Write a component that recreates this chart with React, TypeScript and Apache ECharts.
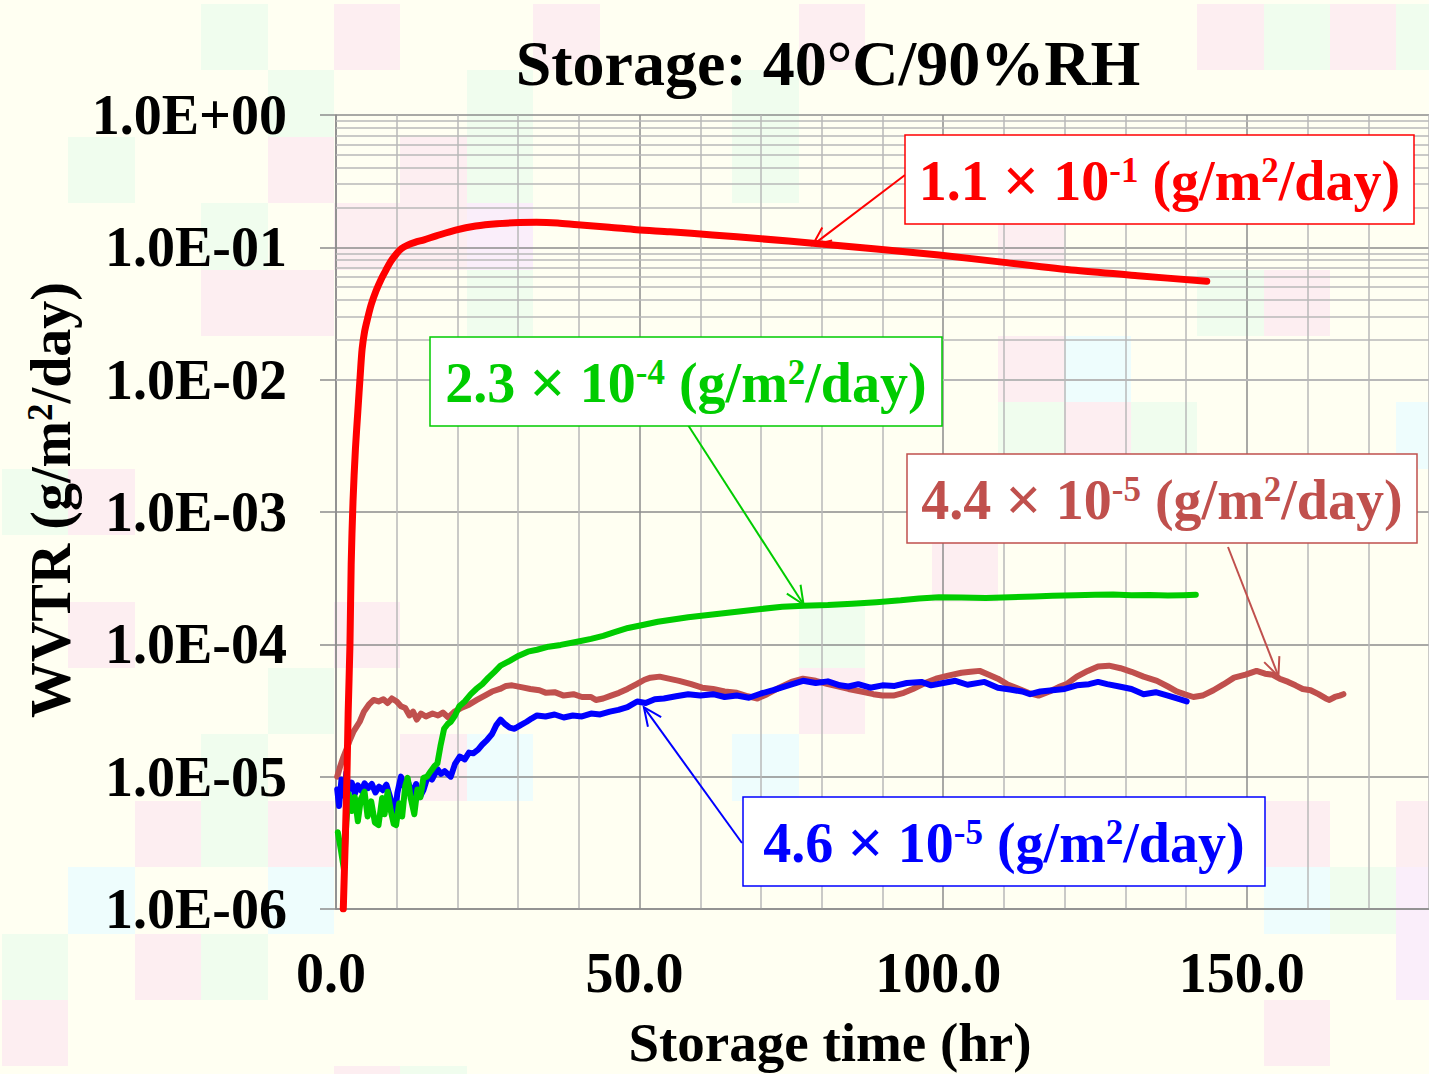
import React, { useEffect, useRef } from 'react';
import * as echarts from 'echarts';

// ---------- data ----------
const xLabelTicks = [0, 50, 100, 150];
const yDecadeTicks = [1e-6, 1e-5, 1e-4, 1e-3, 1e-2, 1e-1, 1];

const redData: number[][] = [
  [1.2, 1e-6], [1.5, 3e-6], [1.8, 1e-5], [2.0, 3e-5], [2.3, 1e-4], [2.5, 4e-4], [2.8, 1.2e-3],
  [3.2, 3.0e-3], [3.6, 5.8e-3], [4.0, 1.1e-2], [4.3, 1.7e-2], [4.7, 2.3e-2], [5.2, 2.9e-2],
  [5.8, 3.7e-2], [6.6, 4.7e-2], [7.4, 5.7e-2], [8.2, 6.7e-2], [9.0, 7.8e-2], [10.0, 9.0e-2],
  [10.8, 9.8e-2], [11.8, 1.04e-1], [13.0, 1.09e-1], [14.5, 1.14e-1], [16.5, 1.22e-1],
  [19.7, 1.35e-1], [23.0, 1.45e-1], [26.5, 1.51e-1], [30.2, 1.54e-1], [33.0, 1.55e-1],
  [36.5, 1.53e-1], [39.8, 1.48e-1], [45.0, 1.42e-1], [49.5, 1.36e-1], [55.0, 1.31e-1],
  [62.0, 1.24e-1], [70.0, 1.16e-1], [79.0, 1.07e-1], [89.0, 9.7e-2], [99.3, 8.75e-2],
  [110.0, 7.7e-2], [121.8, 6.7e-2], [132.0, 6.1e-2], [143.4, 5.55e-2],
];

const greenData: number[][] = [
  [0.3, 3.8e-6], [0.8, 2.8e-6], [1.3, 2.0e-6], [1.7, 4.5e-6], [2.1, 7.4e-6], [2.6, 5.5e-6],
  [3.1, 7.0e-6], [3.6, 4.6e-6], [4.1, 6.8e-6], [4.7, 7.7e-6], [5.2, 5.0e-6], [5.8, 6.5e-6],
  [6.4, 4.5e-6], [7.0, 4.3e-6], [7.6, 6.9e-6], [8.0, 5.2e-6], [8.5, 7.7e-6], [9.0, 5.6e-6],
  [9.5, 4.4e-6], [9.9, 4.3e-6], [10.4, 6.3e-6], [10.9, 5.0e-6], [11.4, 8.5e-6], [11.8, 9.8e-6],
  [12.3, 6.9e-6], [12.9, 5.2e-6], [13.4, 8.0e-6], [13.9, 7.0e-6], [14.4, 9.8e-6], [15.0, 1.0e-5],
  [15.6, 1.1e-5], [16.2, 1.2e-5], [16.7, 1.26e-5], [17.2, 1.7e-5], [17.8, 2.3e-5], [18.4, 2.5e-5],
  [18.9, 2.6e-5], [19.6, 2.9e-5], [20.3, 3.4e-5], [21.2, 3.7e-5], [22.2, 4.2e-5], [23.1, 4.6e-5],
  [24.1, 5.0e-5], [25.1, 5.6e-5], [26.1, 6.2e-5], [27.1, 6.9e-5], [28.6, 7.5e-5], [30.1, 8.2e-5],
  [31.6, 8.8e-5], [33.1, 9.1e-5], [35.0, 9.6e-5], [37.0, 9.9e-5], [39.9, 1.05e-4], [42.0, 1.1e-4],
  [44.0, 1.16e-4], [46.0, 1.24e-4], [48.1, 1.33e-4], [50.5, 1.4e-4], [53.0, 1.48e-4], [55.5, 1.54e-4],
  [58.0, 1.6e-4], [62.0, 1.68e-4], [66.0, 1.76e-4], [70.0, 1.85e-4], [73.5, 1.92e-4], [77.0, 1.96e-4],
  [81.0, 1.98e-4], [85.0, 2.03e-4], [89.0, 2.08e-4], [93.0, 2.15e-4], [96.0, 2.22e-4], [99.3, 2.27e-4],
  [103, 2.26e-4], [107, 2.24e-4], [111, 2.27e-4], [115, 2.3e-4], [118, 2.33e-4], [121.8, 2.35e-4],
  [125, 2.37e-4], [128, 2.38e-4], [131, 2.35e-4], [134, 2.36e-4], [137, 2.34e-4], [139.5, 2.35e-4],
  [141.6, 2.37e-4],
];

const blueData: number[][] = [
  [0.2, 8.0e-6], [0.5, 6.0e-6], [0.9, 9.5e-6], [1.3, 7.2e-6], [1.7, 1.07e-5], [2.1, 8.0e-6],
  [2.6, 9.0e-6], [3.1, 7.4e-6], [3.6, 8.6e-6], [4.2, 7.8e-6], [4.7, 8.9e-6], [5.3, 8.2e-6],
  [5.9, 8.8e-6], [6.5, 7.6e-6], [7.1, 8.4e-6], [7.7, 7.9e-6], [8.3, 8.7e-6], [9.0, 6.8e-6],
  [9.6, 4.6e-6], [10.1, 7.5e-6], [10.7, 1.0e-5], [11.3, 8.3e-6], [11.9, 9.0e-6], [12.5, 7.4e-6],
  [13.2, 8.8e-6], [13.8, 7.0e-6], [14.4, 7.9e-6], [15.1, 1.0e-5], [15.8, 9.5e-6], [16.7, 1.14e-5],
  [17.3, 1.05e-5], [17.9, 1.1e-5], [18.9, 1.0e-5], [19.6, 1.25e-5], [20.4, 1.42e-5], [21.2, 1.35e-5],
  [21.9, 1.52e-5], [22.6, 1.5e-5], [23.4, 1.6e-5], [24.1, 1.75e-5], [24.9, 1.9e-5], [25.7, 2.1e-5],
  [26.4, 2.45e-5], [27.1, 2.7e-5], [27.8, 2.5e-5], [28.6, 2.35e-5], [29.4, 2.3e-5], [30.4, 2.45e-5],
  [31.4, 2.6e-5], [32.2, 2.75e-5], [33.1, 2.9e-5], [34.5, 2.85e-5], [36.0, 2.95e-5], [37.5, 2.8e-5],
  [39.0, 2.9e-5], [40.5, 2.85e-5], [42.0, 3.0e-5], [43.5, 2.95e-5], [45.1, 3.1e-5], [46.5, 3.2e-5],
  [48.0, 3.35e-5], [49.6, 3.7e-5], [51.0, 3.6e-5], [52.5, 3.85e-5], [54.0, 3.9e-5], [56.0, 4.05e-5],
  [58.0, 4.2e-5], [60.0, 4.1e-5], [62.1, 4.2e-5], [64.0, 4.0e-5], [66.0, 4.1e-5], [68.0, 3.95e-5],
  [70.0, 4.25e-5], [72.0, 4.5e-5], [74.5, 4.9e-5], [76.9, 5.3e-5], [79.0, 5.1e-5], [81.0, 5.25e-5],
  [83.0, 4.9e-5], [84.4, 4.8e-5], [86.0, 5.0e-5], [88.0, 4.7e-5], [90.0, 4.9e-5], [92.0, 4.85e-5],
  [94.0, 5.1e-5], [96.4, 5.2e-5], [98.0, 4.9e-5], [100.0, 5.1e-5], [102.0, 5.3e-5], [104.0, 4.95e-5],
  [106.8, 5.2e-5], [109.0, 4.7e-5], [111.0, 4.55e-5], [113.0, 4.4e-5], [114.3, 4.2e-5], [116.0, 4.4e-5],
  [118.0, 4.5e-5], [120.0, 4.6e-5], [122.0, 4.9e-5], [124.0, 5.0e-5], [125.5, 5.2e-5], [127.0, 5.0e-5],
  [129.0, 4.8e-5], [131.0, 4.6e-5], [133.0, 4.2e-5], [135.0, 4.35e-5], [137.0, 4.1e-5], [138.5, 3.9e-5],
  [140.1, 3.7e-5],
];

const brownData: number[][] = [
  [0.2, 1.0e-5], [0.7, 1.2e-5], [1.2, 1.4e-5], [1.7, 1.6e-5], [2.3, 1.9e-5], [2.9, 2.2e-5],
  [3.9, 2.6e-5], [4.6, 3.1e-5], [5.4, 3.5e-5], [6.2, 3.8e-5], [7.0, 3.7e-5], [7.8, 3.85e-5],
  [8.5, 3.6e-5], [9.2, 3.9e-5], [10.0, 3.7e-5], [10.7, 3.4e-5], [11.4, 3.3e-5], [12.1, 2.9e-5],
  [12.7, 3.1e-5], [13.3, 2.7e-5], [14.0, 3.0e-5], [14.8, 2.85e-5], [15.9, 3.0e-5], [16.8, 2.9e-5],
  [17.6, 3.05e-5], [18.5, 2.8e-5], [19.5, 3.1e-5], [20.6, 3.3e-5], [21.9, 3.5e-5], [23.2, 3.8e-5],
  [24.5, 4.1e-5], [25.7, 4.4e-5], [27.0, 4.6e-5], [28.0, 4.85e-5], [29.0, 4.9e-5], [30.5, 4.75e-5],
  [32.0, 4.6e-5], [33.5, 4.5e-5], [34.6, 4.3e-5], [36.0, 4.35e-5], [37.5, 4.1e-5], [39.1, 4.2e-5],
  [40.5, 4.0e-5], [42.0, 4.0e-5], [42.8, 3.8e-5], [44.0, 3.9e-5], [45.3, 4.1e-5], [46.6, 4.3e-5],
  [48.0, 4.6e-5], [49.5, 5.0e-5], [50.8, 5.4e-5], [51.8, 5.6e-5], [53.3, 5.7e-5], [54.8, 5.5e-5],
  [56.5, 5.3e-5], [58.5, 5.0e-5], [60.3, 4.7e-5], [62.1, 4.6e-5], [64.0, 4.4e-5], [66.0, 4.3e-5],
  [67.8, 4.05e-5], [69.4, 3.9e-5], [71.0, 4.2e-5], [73.0, 4.7e-5], [75.0, 5.2e-5], [76.9, 5.5e-5],
  [79.0, 5.3e-5], [81.0, 5.0e-5], [82.8, 4.8e-5], [84.4, 4.6e-5], [86.5, 4.4e-5], [88.5, 4.2e-5],
  [90.0, 4.1e-5], [91.8, 4.1e-5], [93.5, 4.3e-5], [95.0, 4.6e-5], [97.0, 5.1e-5], [98.8, 5.5e-5],
  [100.8, 5.8e-5], [103.0, 6.1e-5], [104.5, 6.2e-5], [106.0, 6.3e-5], [107.5, 5.9e-5], [109.0, 5.5e-5],
  [110.5, 5.0e-5], [112.0, 4.7e-5], [114.0, 4.3e-5], [115.7, 4.1e-5], [117.5, 4.4e-5], [119.0, 4.75e-5],
  [120.3, 5.0e-5], [122.0, 5.7e-5], [123.8, 6.3e-5], [125.5, 6.8e-5], [127.3, 6.9e-5], [129.2, 6.6e-5],
  [131.0, 6.2e-5], [133.0, 5.7e-5], [135.2, 5.3e-5], [137.0, 4.8e-5], [138.5, 4.4e-5], [139.7, 4.2e-5],
  [141.2, 4.0e-5], [142.7, 4.1e-5], [144.5, 4.5e-5], [146.2, 5.0e-5], [147.9, 5.6e-5], [149.8, 5.9e-5],
  [151.6, 6.3e-5], [153.0, 6.0e-5], [154.2, 5.9e-5], [155.4, 5.5e-5], [156.8, 5.2e-5], [158.0, 4.9e-5],
  [159.2, 4.6e-5], [160.5, 4.5e-5], [161.8, 4.2e-5], [163.0, 3.9e-5], [163.6, 3.8e-5], [164.5, 4.0e-5],
  [165.3, 4.1e-5], [165.9, 4.2e-5],
];

// annotation texts and the data points their arrows point at
const annoMantissas = ['1.1', '2.3', '4.4', '4.6'];
const annoExponents = ['-1', '-4', '-5', '-5'];
const annoTips: number[][] = [[78.5, 0.104], [77.0, 2.0e-4], [155.2, 5.75e-5], [50.7, 3.35e-5]];

// ---------- styling ----------
const FONT = '"Liberation Serif", "Times New Roman", serif';
const RED = '#FF0000';
const GREEN = '#00CC00';
const BLUE = '#0000FF';
const BROWN = '#C0504D';
const annoColors = [RED, GREEN, BROWN, BLUE];
// box: x, y, w, h ; arrow start x, y
const annoBoxes = [
  [905, 135, 509, 89, 905, 175],
  [430, 337, 512, 89, 688, 425],
  [907, 454, 510, 89, 1228, 547],
  [743, 797, 522, 89, 742, 843],
];

const BG = '#FFFFF2';
const cellColors: Record<string, string> = { p: '#FDEEF1', g: '#F0FDEE', c: '#EEFDFD', l: '#FAEEFA' };
const bgCells: [number, number, string][] = [
  [3, 0, 'g'], [5, 0, 'p'], [8, 0, 'p'], [12, 0, 'p'], [18, 0, 'p'], [19, 0, 'g'], [20, 0, 'p'], [21, 0, 'g'],
  [4, 1, 'g'], [7, 1, 'g'], [11, 1, 'g'],
  [1, 2, 'g'], [4, 2, 'p'], [6, 2, 'p'], [7, 2, 'g'], [11, 2, 'g'],
  [3, 3, 'g'], [5, 3, 'p'], [6, 3, 'p'], [7, 3, 'l'], [15, 3, 'p'],
  [3, 4, 'p'], [4, 4, 'p'], [7, 4, 'g'], [18, 4, 'g'], [19, 4, 'p'],
  [15, 5, 'p'], [16, 5, 'c'],
  [15, 6, 'g'], [16, 6, 'p'], [17, 6, 'g'], [21, 6, 'c'],
  [0, 7, 'g'], [1, 7, 'p'],
  [14, 8, 'p'],
  [1, 9, 'p'], [5, 9, 'p'], [12, 9, 'g'],
  [4, 10, 'g'], [12, 10, 'p'],
  [3, 11, 'g'], [6, 11, 'p'], [7, 11, 'c'], [11, 11, 'c'],
  [2, 12, 'p'], [3, 12, 'g'], [4, 12, 'p'], [19, 12, 'p'], [21, 12, 'p'],
  [1, 13, 'c'], [4, 13, 'c'], [19, 13, 'c'], [20, 13, 'g'], [21, 13, 'l'],
  [0, 14, 'g'], [2, 14, 'p'], [3, 14, 'g'], [21, 14, 'l'],
  [0, 15, 'p'], [19, 15, 'p'],
  [5, 16, 'p'], [6, 16, 'g'],
];
const CELL = 66.4;
const CELL_X0 = 2;
const CELL_Y0 = 4;

const GRID_LEFT = 336;
const GRID_TOP = 115;
const GRID_W = 1098;
const GRID_H = 794;
const X_MAX = 180;

const MAJOR_LINE = '#8C8C8C';
const MINOR_LINE = '#B9B9B9';

function yLabel(v: number): string {
  const e = Math.round(Math.log10(v));
  const a = Math.abs(e);
  return '1.0E' + (e < 0 ? '-' : '+') + (a < 10 ? '0' : '') + a;
}

const minorYValues: number[] = [];
for (let i = 0; i < yDecadeTicks.length - 1; i++) {
  for (let k = 2; k <= 9; k++) minorYValues.push(yDecadeTicks[i] * k);
}

function richBase(color: string, size: number) {
  return {
    b: { fontSize: size, lineHeight: size, fontWeight: 'bold', fontFamily: FONT, fill: color },
    x: { fontSize: Math.round(size * 1.15), lineHeight: size, fontWeight: 'bold', fontFamily: FONT, fill: color },
    s: {
      fontSize: Math.round(size * 0.62),
      fontWeight: 'bold',
      fontFamily: FONT,
      fill: color,
      verticalAlign: 'top',
    },
  };
}

export default function App() {
  const ref = useRef<HTMLDivElement>(null);

  useEffect(() => {
    if (!ref.current) return;
    const chart = echarts.init(ref.current, undefined, { renderer: 'svg' });

    const lineSeries = (name: string, data: number[][], color: string, width: number, smooth: number | boolean) => ({
      name,
      type: 'line',
      data,
      showSymbol: false,
      symbol: 'none',
      smooth,
      clip: true,
      color,
      lineStyle: { color, width, cap: 'round', join: 'round' },
      z: 3,
    });

    chart.setOption({
      animation: false,
      backgroundColor: 'transparent',
      grid: { left: GRID_LEFT, top: GRID_TOP, width: GRID_W, height: GRID_H, containLabel: false },
      xAxis: {
        type: 'value',
        min: 0,
        max: X_MAX,
        interval: 10,
        axisLine: { show: true, onZero: false, lineStyle: { color: MAJOR_LINE, width: 1.5 } },
        axisTick: { show: false },
        axisLabel: {
          formatter: (v: number) => (xLabelTicks.indexOf(v) >= 0 ? v.toFixed(1) : ''),
          fontSize: 56,
          fontWeight: 'bold',
          fontFamily: FONT,
          color: '#000',
          margin: 36,
          padding: [0, 10, 0, 0],
          showMaxLabel: false,
        },
        splitLine: {
          show: true,
          lineStyle: { color: [MAJOR_LINE, MINOR_LINE, MINOR_LINE, MINOR_LINE, MINOR_LINE], width: 1.5 },
        },
      },
      yAxis: {
        type: 'log',
        logBase: 10,
        min: yDecadeTicks[0],
        max: yDecadeTicks[yDecadeTicks.length - 1],
        splitNumber: 6,
        axisLine: { show: true, lineStyle: { color: MAJOR_LINE, width: 1.5 } },
        axisTick: { show: true, inside: false, length: 16, lineStyle: { color: MAJOR_LINE, width: 1.5 } },
        axisLabel: {
          formatter: (v: number) => yLabel(v),
          fontSize: 56,
          fontWeight: 'bold',
          fontFamily: FONT,
          color: '#000',
          margin: 49,
        },
        splitLine: { show: true, lineStyle: { color: MAJOR_LINE, width: 1.5 } },
        minorTick: { show: false },
        minorSplitLine: { show: false },
      },
      series: [
        {
          name: 'minor-grid',
          type: 'line',
          data: [[0, 1e-6]],
          showSymbol: false,
          symbol: 'none',
          lineStyle: { width: 0, opacity: 0 },
          silent: true,
          z: 1,
          markLine: {
            silent: true,
            z: 1,
            symbol: ['none', 'none'],
            label: { show: false },
            lineStyle: { color: MINOR_LINE, width: 1.5, type: 'solid' },
            emphasis: { disabled: true },
            data: minorYValues.map((v) => ({ yAxis: v })),
          },
        },
        lineSeries('4.4E-5', brownData, BROWN, 6, false),
        lineSeries('4.6E-5', blueData, BLUE, 6, false),
        lineSeries('2.3E-4', greenData, GREEN, 6, false),
        lineSeries('1.1E-1', redData, RED, 7, 0.3),
      ],
    });

    const graphics: any[] = [];

    // title
    graphics.push({
      type: 'text',
      x: 828,
      y: 63,
      z: 100,
      style: {
        text: 'Storage: 40°C/90%RH',
        fontSize: 64,
        fontWeight: 'bold',
        fontFamily: FONT,
        fill: '#000',
        align: 'center',
        verticalAlign: 'middle',
      },
    });
    // x axis name
    graphics.push({
      type: 'text',
      x: 830,
      y: 1042,
      z: 100,
      style: {
        text: 'Storage time (hr)',
        fontSize: 55,
        fontWeight: 'bold',
        fontFamily: FONT,
        fill: '#000',
        align: 'center',
        verticalAlign: 'middle',
      },
    });
    // y axis name
    graphics.push({
      type: 'text',
      x: 51,
      y: 500,
      rotation: Math.PI / 2,
      z: 100,
      style: {
        text: '{b|WVTR (g/m}{s|2}{b|/day)}',
        rich: richBase('#000', 56),
        align: 'center',
        verticalAlign: 'middle',
      },
    });

    // annotation boxes and arrows
    for (let i = 0; i < annoBoxes.length; i++) {
      const [bx, by, bw, bh, ax, ay] = annoBoxes[i];
      const color = annoColors[i];
      const tip = chart.convertToPixel({ xAxisIndex: 0, yAxisIndex: 0 }, annoTips[i]) as number[];
      const dx = tip[0] - ax;
      const dy = tip[1] - ay;
      const ang = Math.atan2(dy, dx);
      const hl = 20;
      const ha = 0.42;
      const p1 = [tip[0] - hl * Math.cos(ang - ha), tip[1] - hl * Math.sin(ang - ha)];
      const p2 = [tip[0] - hl * Math.cos(ang + ha), tip[1] - hl * Math.sin(ang + ha)];
      graphics.push({
        type: 'line',
        z: 90,
        shape: { x1: ax, y1: ay, x2: tip[0], y2: tip[1] },
        style: { stroke: color, lineWidth: 2 },
      });
      graphics.push({
        type: 'polyline',
        z: 90,
        shape: { points: [p1, tip, p2] },
        style: { stroke: color, lineWidth: 2, fill: null },
      });
      graphics.push({
        type: 'rect',
        z: 95,
        shape: { x: bx, y: by, width: bw, height: bh },
        style: { fill: '#FFFFFF', stroke: color, lineWidth: 1.5 },
      });
      graphics.push({
        type: 'text',
        z: 96,
        x: bx + bw / 2,
        y: by + bh / 2 + 1,
        style: {
          text: `{b|${annoMantissas[i]} }{x|×}{b| 10}{s|${annoExponents[i]}}{b| (g/m}{s|2}{b|/day)}`,
          rich: richBase(color, 56),
          align: 'center',
          verticalAlign: 'middle',
        },
      });
    }

    chart.setOption({ graphic: graphics });

    return () => chart.dispose();
  }, []);

  return (
    <div style={{ position: 'fixed', left: 0, top: 0, width: 1429, height: 1074, background: BG, overflow: 'hidden' }}>
      {bgCells.map(([c, r, k], i) => (
        <div
          key={i}
          style={{
            position: 'absolute',
            left: CELL_X0 + c * CELL,
            top: CELL_Y0 + r * CELL,
            width: CELL,
            height: CELL,
            background: cellColors[k],
          }}
        />
      ))}
      <div ref={ref} style={{ position: 'absolute', left: 0, top: 0, width: 1429, height: 1074 }} />
    </div>
  );
}
